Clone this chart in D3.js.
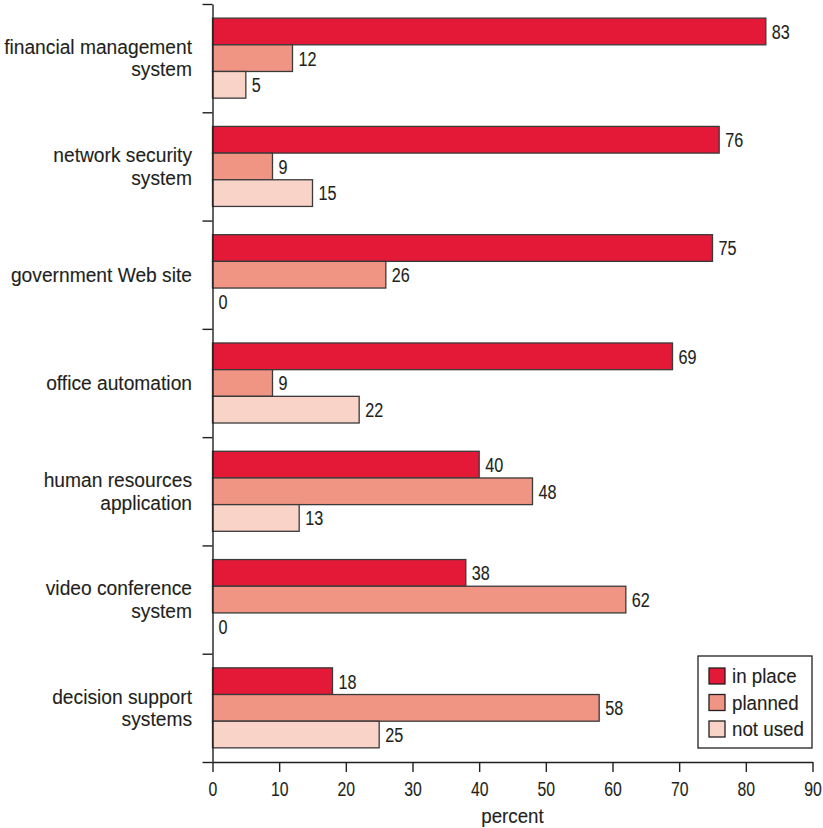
<!DOCTYPE html>
<html>
<head>
<meta charset="utf-8">
<script src="https://cdn.jsdelivr.net/npm/d3@7"></script>
<style>
  html, body { margin: 0; padding: 0; background: #fff; }
  svg text { font-family: "Liberation Sans", Arial, sans-serif; fill: #231f20; stroke: #231f20; stroke-width: 0.12px; }
</style>
</head>
<body>
<svg id="chart" width="823" height="828"></svg>
<script>
// Categories (each label split into the lines it is drawn on)
const categories = [
  ["financial management", "system"],
  ["network security", "system"],
  ["government Web site"],
  ["office automation"],
  ["human resources", "application"],
  ["video conference", "system"],
  ["decision support", "systems"]
];
const seriesNames = ["in place", "planned", "not used"];
const inPlace = [83, 76, 75, 69, 40, 38, 18];
const planned = [12, 9, 26, 9, 48, 62, 58];
const notUsed = [5, 15, 0, 22, 13, 0, 25];
const xTicks = [0, 10, 20, 30, 40, 50, 60, 70, 80, 90];
const colors = ["#e31937", "#f09484", "#f9d3c8"];

const series = [inPlace, planned, notUsed];
const svg = d3.select("#chart");

// condensed look: narrow the regular sans horizontally
const WORD_SX = 0.915, NUM_SX = 0.79;

const plotLeft = 212.5, plotRight = 812.5, plotTop = 4, plotBottom = 762;

const x = d3.scaleLinear().domain([0, 90]).range([plotLeft, plotRight]);
const y = d3.scaleBand().domain(d3.range(categories.length)).range([plotTop, plotBottom]);
const yInner = d3.scaleBand().domain(d3.range(series.length)).range([0, y.bandwidth()]).paddingOuter(0.53).paddingInner(0);
const yBound = d3.scaleLinear().domain([0, categories.length]).range([plotTop, plotBottom]);

// Bars and value labels
const groups = svg.append("g").selectAll("g")
  .data(d3.range(categories.length))
  .join("g")
  .attr("transform", i => `translate(0,${y(i)})`);

groups.each(function(ci) {
  const g = d3.select(this);
  const vals = series.map((s, si) => ({ si, v: s[ci] }));
  g.selectAll("rect").data(vals).join("rect")
    .attr("x", x(0))
    .attr("y", d => yInner(d.si))
    .attr("width", d => x(d.v) - x(0))
    .attr("height", yInner.bandwidth())
    .attr("fill", d => colors[d.si])
    .attr("stroke", "#3a3a3a")
    .attr("stroke-width", 1.3);
  g.selectAll("text.val").data(vals).join("text")
    .attr("class", "val")
    .attr("transform", d => `translate(${x(d.v) + 6},${yInner(d.si) + yInner.bandwidth() / 2}) scale(${NUM_SX},1)`)
    .attr("dy", "0.36em")
    .attr("font-size", 20.5)
    .text(d => d.v);
});

// Category labels
const labelX = 192;
const lineH = 22.7;
svg.append("g").selectAll("text")
  .data(categories)
  .join("text")
  .attr("text-anchor", "end")
  .attr("font-size", 21)
  .attr("transform", (d, i) => `translate(${labelX},${y(i) + y.bandwidth() / 2}) scale(${WORD_SX},1)`)
  .each(function(lines) {
    const t = d3.select(this);
    const first = 7 - (lines.length - 1) * lineH / 2;
    lines.forEach((ln, k) => {
      t.append("tspan")
        .attr("x", 0)
        .attr("y", first + k * lineH)
        .text(ln);
    });
  });

// Left axis: ticks at category boundaries
const yAxis = d3.axisLeft(yBound).tickValues(d3.range(categories.length + 1)).tickFormat("").tickSize(10).tickSizeOuter(0);
svg.append("g").attr("transform", `translate(${plotLeft},0)`).call(yAxis)
  .call(g => g.selectAll("path, line").attr("stroke", "#231f20").attr("stroke-width", 1.4));

// Bottom axis
const xAxis = d3.axisBottom(x).tickValues(xTicks).tickSize(10).tickPadding(9.8).tickSizeOuter(0);
svg.append("g").attr("transform", `translate(0,${plotBottom})`).call(xAxis)
  .call(g => g.selectAll("path, line").attr("stroke", "#231f20").attr("stroke-width", 1.4))
  .call(g => g.selectAll("text")
    .attr("font-size", 20)
    .attr("font-family", null)
    .attr("fill", "#231f20")
    .attr("transform", `scale(${NUM_SX},1)`));

svg.append("text")
  .attr("transform", `translate(${(plotLeft + plotRight) / 2},823.3) scale(${WORD_SX},1)`)
  .attr("text-anchor", "middle")
  .attr("font-size", 20.5)
  .text("percent");

// Legend
const legend = svg.append("g").attr("transform", "translate(698,656)");
legend.append("rect").attr("width", 114).attr("height", 92)
  .attr("fill", "#fff").attr("stroke", "#231f20").attr("stroke-width", 1.3);
const li = legend.selectAll("g").data(seriesNames).join("g")
  .attr("transform", (d, i) => `translate(11,${12 + i * 26.5})`);
li.append("rect").attr("width", 16).attr("height", 16)
  .attr("fill", (d, i) => colors[i]).attr("stroke", "#231f20").attr("stroke-width", 1.3);
li.append("text")
  .attr("transform", `translate(23,8) scale(${WORD_SX},1)`)
  .attr("dy", "0.36em")
  .attr("font-size", 20.5).text(d => d);
</script>
</body>
</html>
